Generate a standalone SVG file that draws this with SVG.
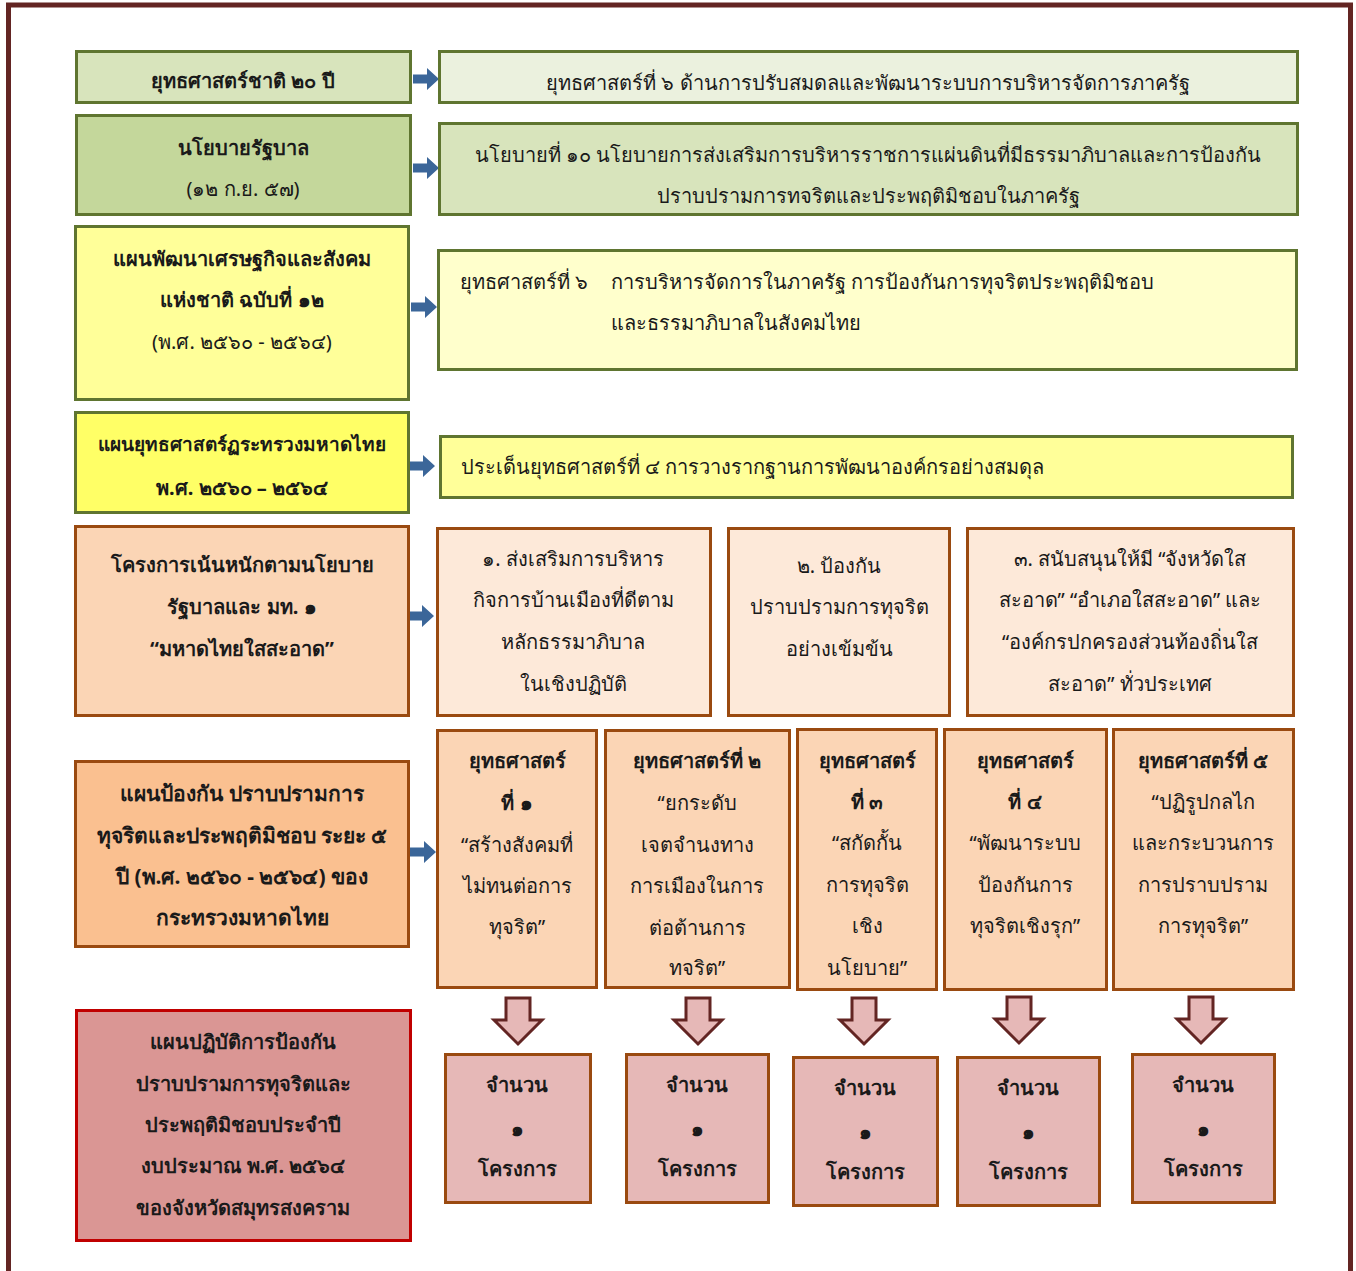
<svg xmlns="http://www.w3.org/2000/svg" width="1356" height="1271" viewBox="0 0 1356 1271">
<defs>
<style>
text{font-family:"Noto Sans","DejaVu Sans",sans-serif;font-size:20px;fill:#1a1a1a;dominant-baseline:central}
.c{text-anchor:middle}
.b{font-weight:bold}
.big{font-size:21px}
.sm{font-size:19px}
.g{stroke:#5f7530;stroke-width:3}
.o{stroke:#9a4a10;stroke-width:3}
.r{stroke:#c00000;stroke-width:3}
.ba{fill:#3b6699}
.da{fill:#e6b8b7;stroke:#632523;stroke-width:3;stroke-linejoin:miter}
</style>
<path id="barrow" d="M0,-4.5 H14 V-11 L26,0 L14,11 V4.5 H0 Z"/>
<path id="darrow" d="M-12,0 H12 V22 H24 L0,46 L-24,22 H-12 Z"/>
</defs>
<rect x="8.5" y="5" width="1342" height="1320" fill="none" stroke="#632523" stroke-width="5"/>

<g id="connectors">
<use href="#barrow" class="ba" x="413" y="79"/>
<use href="#barrow" class="ba" x="413" y="168"/>
<use href="#barrow" class="ba" x="411" y="307"/>
<use href="#barrow" class="ba" x="409" y="466"/>
<use href="#barrow" class="ba" x="408" y="616"/>
<use href="#barrow" class="ba" x="410" y="852"/>
<use href="#darrow" class="da" x="518" y="998"/>
<use href="#darrow" class="da" x="698" y="998"/>
<use href="#darrow" class="da" x="864" y="998"/>
<use href="#darrow" class="da" x="1019" y="997"/>
<use href="#darrow" class="da" x="1201" y="997"/>
</g>

<g id="left1"><rect x="76.5" y="51.5" width="334" height="51" fill="#d8e4bc" class="g"/>
<text class="c b" x="243" y="80">ยุทธศาสตร์ชาติ ๒๐ ปี</text></g>
<g id="left2"><rect x="76.5" y="115.5" width="334" height="99" fill="#c4d79b" class="g"/>
<text class="c b" x="243" y="147">นโยบายรัฐบาล</text>
<text class="c" x="243" y="188">(๑๒ ก.ย. ๕๗)</text></g>
<g id="left3"><rect x="75.5" y="226.5" width="333" height="173" fill="#ffff99" class="g"/>
<text class="c b" x="242" y="258">แผนพัฒนาเศรษฐกิจและสังคม</text>
<text class="c b" x="242" y="299">แห่งชาติ ฉบับที่ ๑๒</text>
<text class="c" x="242" y="341">(พ.ศ. ๒๕๖๐ - ๒๕๖๔)</text></g>
<g id="left4"><rect x="75.5" y="412.5" width="333" height="100" fill="#ffff66" class="g"/>
<text class="c b sm" x="242" y="444">แผนยุทธศาสตร์ฏระทรวงมหาดไทย</text>
<text class="c b" x="242" y="487">พ.ศ. ๒๕๖๐ – ๒๕๖๔</text></g>
<g id="left5"><rect x="75.5" y="526.5" width="333" height="189" fill="#fbd5b5" class="o"/>
<text class="c b" x="242" y="564">โครงการเน้นหนักตามนโยบาย</text>
<text class="c b" x="242" y="606">รัฐบาลและ มท. ๑</text>
<text class="c b" x="242" y="648">“มหาดไทยใสสะอาด”</text></g>
<g id="left6"><rect x="75.5" y="761.5" width="333" height="185" fill="#fac090" class="o"/>
<text class="c b big" x="242" y="793">แผนป้องกัน ปราบปรามการ</text>
<text class="c b big" x="242" y="835">ทุจริตและประพฤติมิชอบ ระยะ ๕</text>
<text class="c b big" x="242" y="876">ปี (พ.ศ. ๒๕๖๐ - ๒๕๖๔) ของ</text>
<text class="c b big" x="242" y="917">กระทรวงมหาดไทย</text></g>
<g id="left7"><rect x="76.5" y="1010.5" width="334" height="230" fill="#da9694" class="r"/>
<text class="c b" x="243" y="1041">แผนปฏิบัติการป้องกัน</text>
<text class="c b" x="243" y="1083">ปราบปรามการทุจริตและ</text>
<text class="c b" x="243" y="1124">ประพฤติมิชอบประจำปี</text>
<text class="c b" x="243" y="1165">งบประมาณ พ.ศ. ๒๕๖๔</text>
<text class="c b" x="243" y="1207">ของจังหวัดสมุทรสงคราม</text></g>

<g id="right1"><rect x="439.5" y="51.5" width="858" height="51" fill="#ebf1de" class="g"/>
<text class="c" x="868" y="82">ยุทธศาสตร์ที่ ๖ ด้านการปรับสมดลและพัฒนาระบบการบริหารจัดการภาครัฐ</text></g>
<g id="right2"><rect x="439.5" y="123.5" width="858" height="91" fill="#d8e4bc" class="g"/>
<text class="c" x="868" y="154">นโยบายที่ ๑๐ นโยบายการส่งเสริมการบริหารราชการแผ่นดินที่มีธรรมาภิบาลและการป้องกัน</text>
<text class="c" x="868" y="195">ปราบปรามการทจริตและประพฤติมิชอบในภาครัฐ</text></g>
<g id="right3"><rect x="438.5" y="250.5" width="858" height="119" fill="#ffffcc" class="g"/>
<text x="460" y="281">ยุทธศาสตร์ที่ ๖</text>
<text x="611" y="281">การบริหารจัดการในภาครัฐ การป้องกันการทุจริตประพฤติมิชอบ</text>
<text x="611" y="322">และธรรมาภิบาลในสังคมไทย</text></g>
<g id="right4"><rect x="440.5" y="436.5" width="852" height="61" fill="#ffff99" class="g"/>
<text x="461" y="466">ประเด็นยุทธศาสตร์ที่ ๔ การวางรากฐานการพัฒนาองค์กรอย่างสมดุล</text></g>

<g id="focus1"><rect x="437.5" y="528.5" width="273" height="187" fill="#fde9d9" class="o"/>
<text class="c" x="573" y="558">๑. ส่งเสริมการบริหาร</text>
<text class="c" x="573" y="599">กิจการบ้านเมืองที่ดีตาม</text>
<text class="c" x="573" y="641">หลักธรรมาภิบาล</text>
<text class="c" x="573" y="683">ในเชิงปฏิบัติ</text></g>
<g id="focus2"><rect x="728.5" y="528.5" width="221" height="187" fill="#fde9d9" class="o"/>
<text class="c" x="839" y="565">๒. ป้องกัน</text>
<text class="c" x="839" y="606">ปราบปรามการทุจริต</text>
<text class="c" x="839" y="648">อย่างเข้มข้น</text></g>
<g id="focus3"><rect x="967.5" y="528.5" width="326" height="187" fill="#fde9d9" class="o"/>
<text class="c" x="1130" y="558">๓. สนับสนุนให้มี “จังหวัดใส</text>
<text class="c" x="1130" y="599">สะอาด” “อำเภอใสสะอาด” และ</text>
<text class="c" x="1130" y="641">“องค์กรปกครองส่วนท้องถิ่นใส</text>
<text class="c" x="1130" y="683">สะอาด” ทั่วประเทศ</text></g>

<g id="strat1"><rect x="437.5" y="730.5" width="159" height="257" fill="#fbd5b5" class="o"/>
<text class="c b" x="517" y="760">ยุทธศาสตร์</text>
<text class="c b" x="517" y="802">ที่ ๑</text>
<text class="c" x="517" y="844">“สร้างสังคมที่</text>
<text class="c" x="517" y="885">ไม่ทนต่อการ</text>
<text class="c" x="517" y="926">ทุจริต”</text></g>
<g id="strat2"><rect x="605.5" y="730.5" width="184" height="257" fill="#fbd5b5" class="o"/>
<text class="c b" x="697" y="760">ยุทธศาสตร์ที่ ๒</text>
<text class="c" x="697" y="802">“ยกระดับ</text>
<text class="c" x="697" y="844">เจตจำนงทาง</text>
<text class="c" x="697" y="885">การเมืองในการ</text>
<text class="c" x="697" y="927">ต่อต้านการ</text>
<text class="c" x="697" y="967">ทจริต”</text></g>
<g id="strat3"><rect x="797.5" y="729.5" width="139" height="260" fill="#fbd5b5" class="o"/>
<text class="c b" x="867" y="760">ยุทธศาสตร์</text>
<text class="c b" x="867" y="801">ที่ ๓</text>
<text class="c" x="867" y="842">“สกัดกั้น</text>
<text class="c" x="867" y="884">การทุจริต</text>
<text class="c" x="867" y="925">เชิง</text>
<text class="c" x="867" y="967">นโยบาย”</text></g>
<g id="strat4"><rect x="944.5" y="729.5" width="162" height="260" fill="#fbd5b5" class="o"/>
<text class="c b" x="1025" y="760">ยุทธศาสตร์</text>
<text class="c b" x="1025" y="801">ที่ ๔</text>
<text class="c" x="1025" y="842">“พัฒนาระบบ</text>
<text class="c" x="1025" y="884">ป้องกันการ</text>
<text class="c" x="1025" y="925">ทุจริตเชิงรุก”</text></g>
<g id="strat5"><rect x="1113.5" y="729.5" width="180" height="260" fill="#fbd5b5" class="o"/>
<text class="c b" x="1203" y="760">ยุทธศาสตร์ที่ ๕</text>
<text class="c" x="1203" y="801">“ปฏิรูปกลไก</text>
<text class="c" x="1203" y="842">และกระบวนการ</text>
<text class="c" x="1203" y="884">การปราบปราม</text>
<text class="c" x="1203" y="925">การทุจริต”</text></g>

<g id="proj1"><rect x="445.5" y="1054.5" width="145" height="148" fill="#e6b8b7" class="o"/>
<text class="c b" x="517" y="1084">จำนวน</text>
<text class="c b" x="517" y="1128">๑</text>
<text class="c b" x="517" y="1168">โครงการ</text></g>
<g id="proj2"><rect x="626.5" y="1054.5" width="142" height="148" fill="#e6b8b7" class="o"/>
<text class="c b" x="697" y="1084">จำนวน</text>
<text class="c b" x="697" y="1128">๑</text>
<text class="c b" x="697" y="1168">โครงการ</text></g>
<g id="proj3"><rect x="793.5" y="1057.5" width="144" height="148" fill="#e6b8b7" class="o"/>
<text class="c b" x="865" y="1087">จำนวน</text>
<text class="c b" x="865" y="1131">๑</text>
<text class="c b" x="865" y="1171">โครงการ</text></g>
<g id="proj4"><rect x="957.5" y="1057.5" width="142" height="148" fill="#e6b8b7" class="o"/>
<text class="c b" x="1028" y="1087">จำนวน</text>
<text class="c b" x="1028" y="1131">๑</text>
<text class="c b" x="1028" y="1171">โครงการ</text></g>
<g id="proj5"><rect x="1132.5" y="1054.5" width="142" height="148" fill="#e6b8b7" class="o"/>
<text class="c b" x="1203" y="1084">จำนวน</text>
<text class="c b" x="1203" y="1128">๑</text>
<text class="c b" x="1203" y="1168">โครงการ</text></g>
</svg>
